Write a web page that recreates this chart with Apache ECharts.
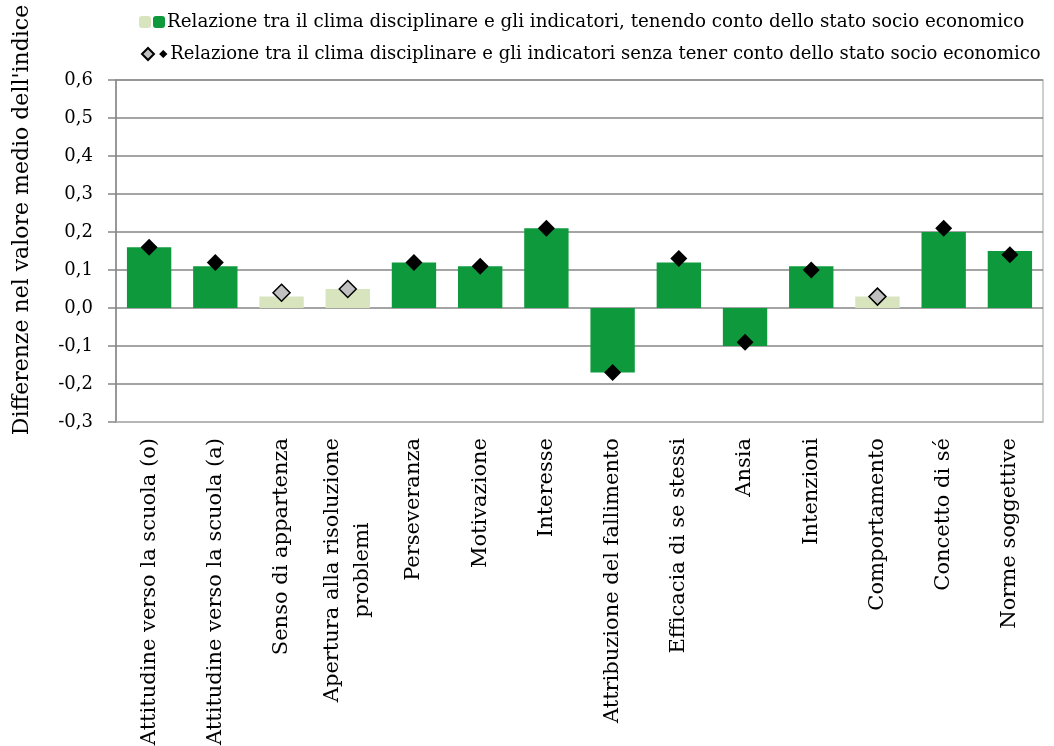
<!DOCTYPE html>
<html>
<head>
<meta charset="utf-8">
<script src="https://cdn.jsdelivr.net/npm/echarts@6/dist/echarts.min.js"></script>
<style>
html,body{margin:0;padding:0;background:#fff;}
#chart{width:1054px;height:746px;}
</style>
</head>
<body>
<div id="chart"></div>
<script>
var categories = [
  "Attitudine verso la scuola (o)",
  "Attitudine verso la scuola (a)",
  "Senso di appartenza",
  "Apertura alla risoluzione\nproblemi",
  "Perseveranza",
  "Motivazione",
  "Interesse",
  "Attribuzione del fallimento",
  "Efficacia di se stessi",
  "Ansia",
  "Intenzioni",
  "Comportamento",
  "Concetto di sé",
  "Norme soggettive"
];
var withSES = [0.16, 0.11, 0.03, 0.05, 0.12, 0.11, 0.21, -0.17, 0.12, -0.10, 0.11, 0.03, 0.20, 0.15];
var withoutSES = [0.16, 0.12, 0.04, 0.05, 0.12, 0.11, 0.21, -0.17, 0.13, -0.09, 0.10, 0.03, 0.21, 0.14];
var significant = [1, 1, 0, 0, 1, 1, 1, 1, 1, 1, 1, 0, 1, 1];
var yTicks = [-0.3, -0.2, -0.1, 0.0, 0.1, 0.2, 0.3, 0.4, 0.5, 0.6];

var nameWith = "Relazione tra il clima disciplinare e gli indicatori, tenendo conto dello stato socio economico";
var nameWithout = "Relazione tra il clima disciplinare e gli indicatori senza tener conto dello stato socio economico";
var nameWithNS = "ns_with";
var nameWithoutNS = "ns_without";

function pick(arr, flag) {
  return arr.map(function (v, i) { return significant[i] === flag ? v : '-'; });
}

var FONT = '"DejaVu Serif", serif';
var chart = echarts.init(document.getElementById('chart'));

var legendFmt = function (n) { return (n === nameWithNS || n === nameWithoutNS) ? '' : n; };

chart.setOption({
  animation: false,
  textStyle: { fontFamily: FONT, color: '#000' },
  legend: [
    {
      left: 134, top: 8, width: 1000, itemGap: 2, itemWidth: 12, itemHeight: 12,
      data: [nameWithNS, nameWith],
      formatter: legendFmt,
      textStyle: { fontFamily: FONT, fontSize: 18.3, color: '#000', padding: [0, 0, 0, -3] }
    },
    {
      left: 136, top: 40, width: 1000, itemGap: 1, itemWidth: 12, itemHeight: 12,
      data: [nameWithoutNS, { name: nameWithout, itemStyle: { borderWidth: 2.5, borderColor: '#fff' } }],
      formatter: legendFmt,
      textStyle: { fontFamily: FONT, fontSize: 18, color: '#000', padding: [0, 0, 0, -4] }
    }
  ],
  grid: {
    left: 116, right: 11, top: 80, bottom: 324,
    outerBoundsMode: 'none', containLabel: false,
    show: true, borderColor: '#c0c0c0', borderWidth: 1.5, backgroundColor: 'transparent'
  },
  xAxis: {
    type: 'category',
    data: categories,
    axisLine: { onZero: false, lineStyle: { color: '#c0c0c0', width: 1.5 } },
    axisTick: { show: false },
    axisLabel: {
      rotate: 90, margin: 16, fontFamily: FONT, fontSize: 21, color: '#000',
      interval: 0,
      formatter: function (v) {
        return v.split('\n').map(function (s) { return '{a|' + s + '}'; }).join('\n');
      },
      rich: { a: { align: 'center', fontFamily: FONT, fontSize: 21, color: '#000', lineHeight: 30 } }
    }
  },
  yAxis: {
    type: 'value',
    min: yTicks[0], max: yTicks[yTicks.length - 1], interval: 0.1,
    name: "Differenze nel valore medio dell'indice",
    nameLocation: 'middle', nameGap: 83, nameRotate: 90,
    nameTextStyle: { fontFamily: FONT, fontSize: 22, color: '#000', padding: [0, 0, 0, 62] },
    axisLine: { show: true, lineStyle: { color: '#868686', width: 1.5 } },
    axisTick: { show: true, length: 8, lineStyle: { color: '#868686', width: 1.5 } },
    splitLine: { lineStyle: { color: '#868686', width: 1.5 } },
    axisLabel: {
      margin: 23, fontFamily: FONT, fontSize: 18, color: '#000',
      formatter: function (v) { return (Math.round(v * 10) / 10).toFixed(1).replace('.', ','); }
    }
  },
  series: [
    {
      name: nameWithNS, type: 'bar', data: pick(withSES, 0),
      barGap: '-100%', barCategoryGap: '33%',
      itemStyle: { color: '#d7e4bd' }, z: 2
    },
    {
      name: nameWith, type: 'bar', data: pick(withSES, 1),
      barGap: '-100%', barCategoryGap: '33%',
      itemStyle: { color: '#0e9a3c' }, z: 2
    },
    {
      name: nameWithoutNS, type: 'scatter', data: pick(withoutSES, 0),
      symbol: 'diamond', symbolSize: 17,
      itemStyle: { color: '#c0c0c0', borderColor: '#000', borderWidth: 1.5, opacity: 1 }, z: 5
    },
    {
      name: nameWithout, type: 'scatter', data: pick(withoutSES, 1),
      symbol: 'diamond', symbolSize: 17,
      itemStyle: { color: '#000', opacity: 1 }, z: 5
    }
  ]
});
</script>
</body>
</html>
